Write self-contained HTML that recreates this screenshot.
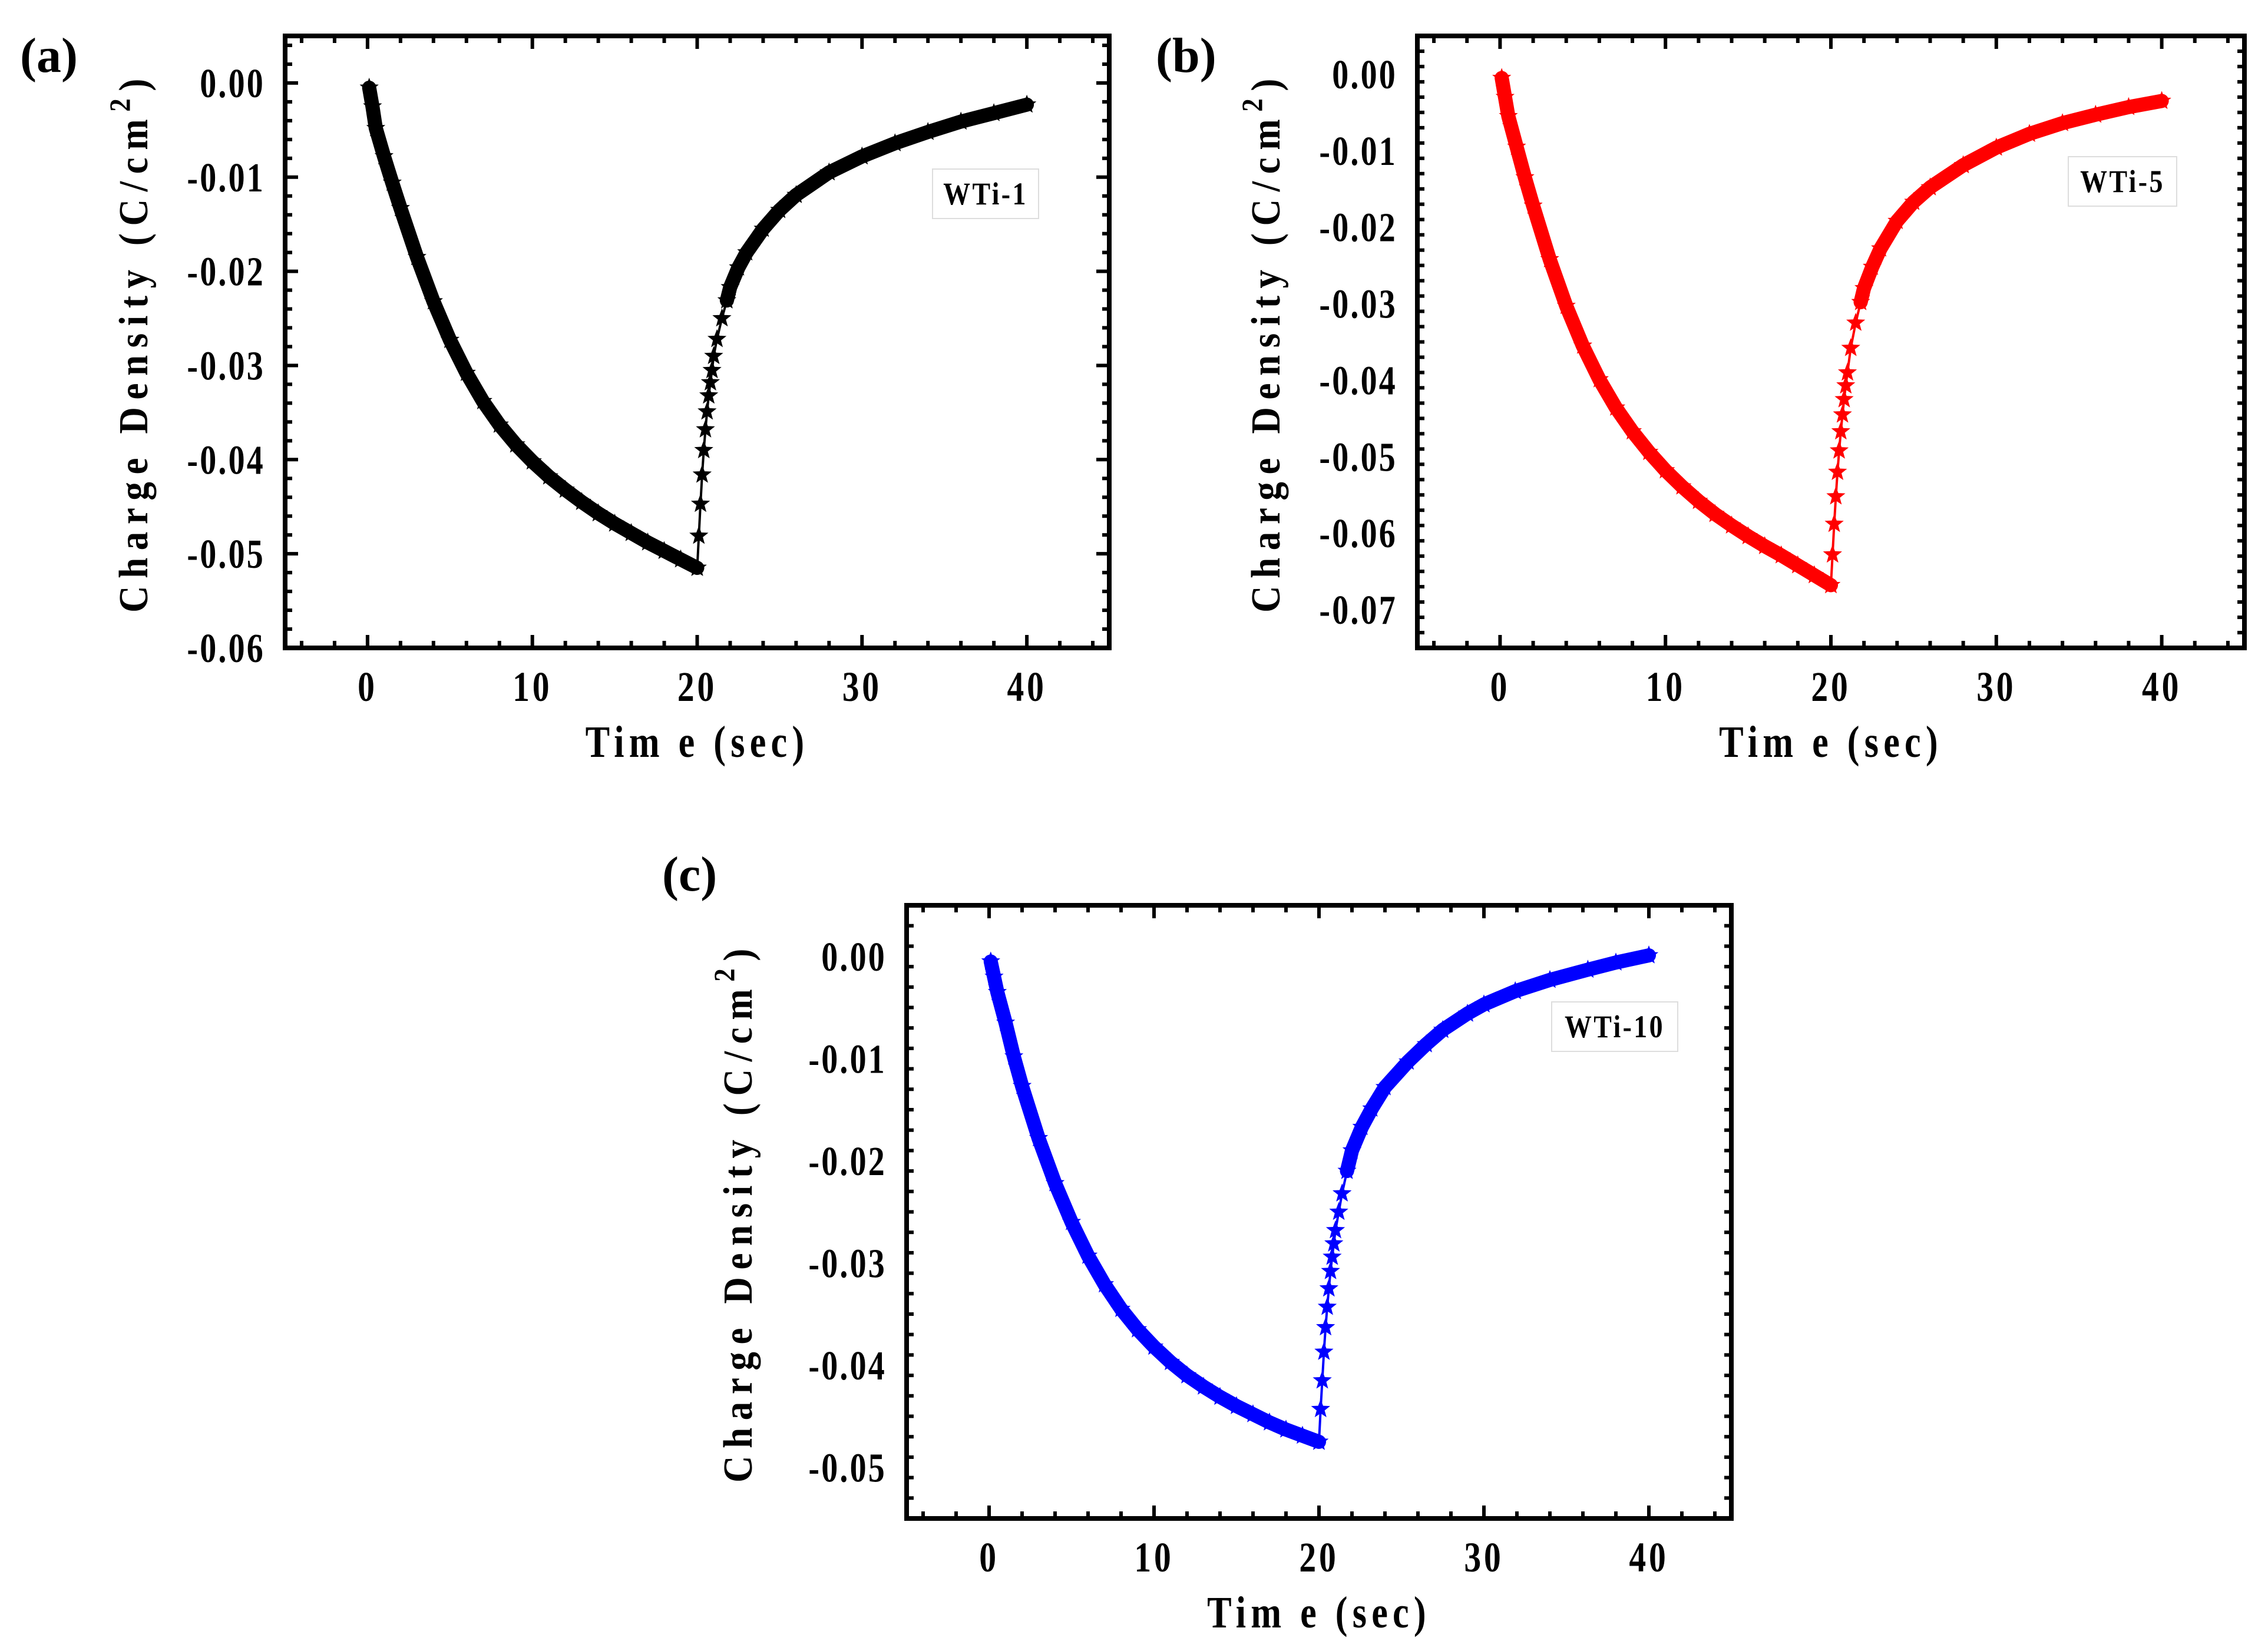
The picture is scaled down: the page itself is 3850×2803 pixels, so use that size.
<!DOCTYPE html>
<html><head><meta charset="utf-8">
<style>
html,body{margin:0;padding:0;background:#fff;}
svg{display:block;}
text{font-family:"Liberation Serif",serif;font-weight:bold;}
</style></head>
<body>
<svg id="fig" width="3850" height="2803" viewBox="0 0 3850 2803" xmlns="http://www.w3.org/2000/svg">
<rect width="3850" height="2803" fill="#fff"/>
</svg>
<script>
// ---- data (panel a: WTi-1) ----
const chargeTimeA = [0.1,0.3,0.5,1,1.5,2,3,4,5,6,7,8,9,10,11,12,13,14,15,16,17,18,19,20];
const chargeValA = [-0.0005,-0.0025,-0.0048,-0.0078,-0.0106,-0.0133,-0.0185,-0.0232,-0.0273,-0.0308,-0.0338,-0.0363,-0.0384,-0.0402,-0.0418,-0.0432,-0.0445,-0.0457,-0.0468,-0.0478,-0.0488,-0.0497,-0.0506,-0.0515];
const dischTimeA = [20,20.1,20.2,20.3,20.4,20.5,20.6,20.7,20.8,20.9,21,21.2,21.5,21.8,22,22.5,23,24,25,26,28,30,32,34,36,38,40];
const dischValA = [-0.0515,-0.0481,-0.0447,-0.0416,-0.039,-0.0368,-0.0349,-0.0332,-0.0318,-0.0305,-0.029,-0.0272,-0.025,-0.0231,-0.0217,-0.0196,-0.018,-0.0155,-0.0135,-0.0119,-0.0095,-0.0078,-0.0064,-0.0052,-0.0041,-0.0032,-0.0023];
// ---- panel b: WTi-5 ----
const chargeTimeB = [0.1,0.3,0.5,1,1.5,2,3,4,5,6,7,8,9,10,11,12,13,14,15,16,17,18,19,20];
const chargeValB = [-0.0005,-0.003,-0.0055,-0.0095,-0.0135,-0.0172,-0.0242,-0.0303,-0.0355,-0.0399,-0.0436,-0.0467,-0.0494,-0.0518,-0.0539,-0.0558,-0.0575,-0.059,-0.0604,-0.0617,-0.0629,-0.0642,-0.0655,-0.0668];
const dischTimeB = [20,20.1,20.2,20.3,20.4,20.5,20.6,20.7,20.8,20.9,21,21.2,21.5,21.8,22,22.5,23,24,25,26,28,30,32,34,36,38,40];
const dischValB = [-0.0668,-0.0628,-0.0588,-0.0552,-0.052,-0.0492,-0.0467,-0.0445,-0.0425,-0.0407,-0.039,-0.0358,-0.0325,-0.0298,-0.028,-0.0252,-0.0228,-0.0192,-0.0167,-0.0148,-0.0119,-0.0096,-0.0078,-0.0064,-0.0053,-0.0043,-0.0035];
// ---- panel c: WTi-10 ----
const chargeTimeC = [0.1,0.3,0.5,1,1.5,2,3,4,5,6,7,8,9,10,11,12,13,14,15,16,17,18,19,20];
const chargeValC = [-0.0005,-0.002,-0.0035,-0.0065,-0.0098,-0.0127,-0.0178,-0.0222,-0.026,-0.0293,-0.0321,-0.0345,-0.0365,-0.0382,-0.0397,-0.041,-0.0421,-0.0431,-0.044,-0.0448,-0.0456,-0.0463,-0.0469,-0.0475];
const dischTimeC = [20,20.1,20.2,20.3,20.4,20.5,20.6,20.7,20.8,20.9,21,21.2,21.4,21.7,22,22.6,23.2,24,25.4,26.5,27.5,29,30,31.9,34,36.3,38,40];
const dischValC = [-0.0475,-0.0443,-0.0415,-0.0387,-0.0363,-0.0343,-0.0325,-0.0308,-0.0294,-0.0281,-0.0268,-0.025,-0.0232,-0.021,-0.019,-0.0167,-0.0149,-0.0128,-0.0103,-0.0086,-0.0072,-0.0056,-0.0047,-0.0034,-0.0023,-0.0013,-0.0006,0.0001];
const xTicks = [0,10,20,30,40];
const yTicksA = [0,-0.01,-0.02,-0.03,-0.04,-0.05,-0.06];
const yTicksB = [0,-0.01,-0.02,-0.03,-0.04,-0.05,-0.06,-0.07];
const yTicksC = [0,-0.01,-0.02,-0.03,-0.04,-0.05];

const NS='http://www.w3.org/2000/svg';
const svg=document.getElementById('fig');
function mk(tag,attrs,parent){const e=document.createElementNS(NS,tag);for(const k in attrs)e.setAttribute(k,attrs[k]);(parent||svg).appendChild(e);return e;}
function starPath(cx,cy,R){let d='';for(let i=0;i<10;i++){const r=i%2?R*0.42:R;const a=-Math.PI/2+i*Math.PI/5;d+=(i?'L':'M')+(cx+r*Math.cos(a)).toFixed(1)+' '+(cy+r*Math.sin(a)).toFixed(1);}return d+'Z';}

function panel(p){
  const g=mk('g',{});
  
  
  const X=v=>p.x0+(v-p.xmin)/(p.xmax-p.xmin)*(p.x1-p.x0);
  const Y=v=>p.y0+(p.ymax-v)/(p.ymax-p.ymin)*(p.y1-p.y0);
  const tg=mk('g',{stroke:'#000','stroke-width':6},g);
  
  
  for(let v=-4;v<=44;v+=2){const x=X(v);if(x<=p.x0+4||x>=p.x1-4)continue;const L=(v%10===0)?22:12;
    mk('line',{x1:x,y1:p.y1,x2:x,y2:p.y1-L},tg);mk('line',{x1:x,y1:p.y0,x2:x,y2:p.y0+L},tg);}
  for(let k=Math.round(p.ymin*1000);k<=Math.round(p.ymax*1000);k+=2){const v=k/1000;const y=Y(v);if(y<=p.y0+4||y>=p.y1-4)continue;const L=(k%10===0)?22:12;
    mk('line',{x1:p.x0,y1:y,x2:p.x0+L,y2:y},tg);mk('line',{x1:p.x1,y1:y,x2:p.x1-L,y2:y},tg);}
  const fr=mk('rect',{x:p.x0,y:p.y0,width:p.x1-p.x0,height:p.y1-p.y0,fill:'none',stroke:'#000','stroke-width':8},g);
  
  
  xTicks.forEach(v=>{const t=mk('text',{x:0,y:0,'font-size':72,'text-anchor':'middle','letter-spacing':6,transform:`translate(${X(v)},${p.y1+90}) scale(0.8,1)`},g);t.textContent=String(v);
    
    });
  p.yt.forEach(v=>{const t=mk('text',{x:0,y:0,'font-size':70,'text-anchor':'end','letter-spacing':4,transform:`translate(${p.x0-34},${Y(v)+24}) scale(0.8,1)`},g);t.textContent=v===0?'0.00':v.toFixed(2);
    
    });
  const xt=mk('text',{x:0,y:0,'font-size':76,'text-anchor':'middle','letter-spacing':10,transform:`translate(${(p.x0+p.x1)/2},${p.y1+185}) scale(0.82,1)`},g);
  xt.textContent='Tim e (sec)';
  
  
  const cy=(p.y0+p.y1)/2;
  const yt=mk('text',{x:0,y:0,'font-size':70,'text-anchor':'middle','letter-spacing':14,transform:`translate(${p.ytx},${cy}) rotate(-90) scale(0.9,1)`},g);
  yt.innerHTML='Charge Density (C/cm<tspan dy="-30" font-size="50">2</tspan><tspan dy="30">)</tspan>';
  
  
  const pl=mk('text',{x:p.lx,y:p.ly,'font-size':84},g);
  pl.textContent=p.label;
  
  
  const lg=mk('g',{},g);
  
  
  mk('rect',{x:p.lgx,y:p.lgy,width:p.lgw,height:84,fill:'#fff',stroke:'#ddd','stroke-width':2},lg);
  const lt=mk('text',{x:0,y:0,'font-size':54,'text-anchor':'middle','letter-spacing':4,transform:`translate(${p.lgx+p.lgw/2},${p.lgy+60}) scale(0.85,1)`},lg);
  lt.textContent=p.legend;
  const sg=mk('g',{},g);
  
  
  const all=p.ct.map((t,i)=>[t,p.cv[i]]).concat(p.dt.map((t,i)=>[t,p.dv[i]]));
  mk('polyline',{points:all.map(d=>X(d[0])+','+Y(d[1])).join(' '),fill:'none',stroke:p.color,'stroke-width':4},sg);
  const band1=p.ct.map((t,i)=>X(t)+','+Y(p.cv[i])).join(' ');
  mk('polyline',{points:band1,fill:'none',stroke:p.color,'stroke-width':24,'stroke-linejoin':'round','stroke-linecap':'round'},sg);
  const band2=p.dt.map((t,i)=>[t,p.dv[i]]).filter(d=>d[0]>=p.bandFrom).map(d=>X(d[0])+','+Y(d[1])).join(' ');
  mk('polyline',{points:band2,fill:'none',stroke:p.color,'stroke-width':24,'stroke-linejoin':'round','stroke-linecap':'round'},sg);
  all.forEach(d=>{const s=mk('path',{d:starPath(X(d[0]),Y(d[1]),17),fill:p.color},sg);
    
    });
}
panel({name:'panel-a',label:'(a)',legend:'WTi-1',color:'#000',x0:484,x1:1883,y0:61,y1:1100,xmin:-5,xmax:45,ymin:-0.06,ymax:0.005,
  yt:yTicksA,ct:chargeTimeA,cv:chargeValA,dt:dischTimeA,dv:dischValA,bandFrom:21.8,ytx:250,lx:34,ly:122,lgx:1583,lgy:287,lgw:180});
panel({name:'panel-b',label:'(b)',legend:'WTi-5',color:'#f00',x0:2406,x1:3810,y0:61,y1:1100,xmin:-5,xmax:45,ymin:-0.075,ymax:0.005,
  yt:yTicksB,ct:chargeTimeB,cv:chargeValB,dt:dischTimeB,dv:dischValB,bandFrom:21.8,ytx:2172,lx:1962,ly:122,lgx:3511,lgy:266,lgw:184});
panel({name:'panel-c',label:'(c)',legend:'WTi-10',color:'#00f',x0:1539,x1:2939,y0:1537,y1:2578,xmin:-5,xmax:45,ymin:-0.055,ymax:0.005,
  yt:yTicksC,ct:chargeTimeC,cv:chargeValC,dt:dischTimeC,dv:dischValC,bandFrom:21.7,ytx:1276,lx:1124,ly:1512,lgx:2634,lgy:1701,lgw:214});
</script>
</body></html>
